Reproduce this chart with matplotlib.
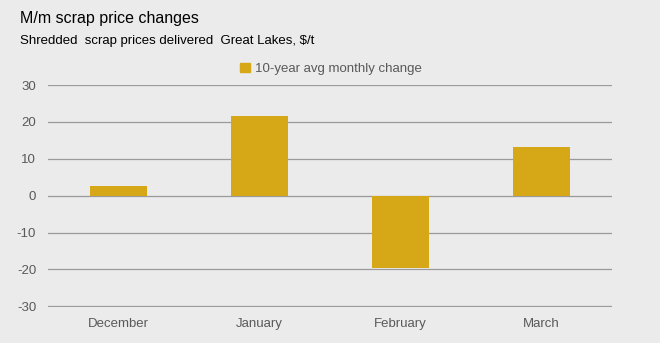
import matplotlib
matplotlib.use("Agg")
import matplotlib.pyplot as plt
from matplotlib.patches import Patch

# ---------------- data ----------------
months = ["December", "January", "February", "March"]
avg_change = [2.5, 21.7, -19.7, 13.1]
series_name = "10-year avg monthly change"

BG = "#EBEBEB"
GOLD = "#D6A817"
TXT = "#595959"

plt.rcParams["font.family"] = ["Liberation Sans", "DejaVu Sans"]
plt.rcParams["axes.unicode_minus"] = False

fig = plt.figure(figsize=(6.6, 3.43), dpi=100, facecolor=BG)
ax = fig.add_axes([48 / 660, 1 - 307 / 343, 564 / 660, 222 / 343])
ax.set_facecolor(BG)

x = range(len(months))
ax.bar(x, avg_change, width=0.40, color=GOLD, zorder=3)

ax.set_xlim(-0.5, len(months) - 0.5)
ax.set_ylim(-30.2, 30)
ax.set_yticks(range(-30, 31, 10))
ax.set_xticks(list(x))
ax.set_xticklabels(months)
ax.yaxis.grid(True, color="#9A9A9A", linewidth=0.9, zorder=0)
ax.tick_params(length=0, colors=TXT, labelsize=9.5)
ax.tick_params(axis="y", pad=8.5)
ax.tick_params(axis="x", pad=8)
for s in ax.spines.values():
    s.set_visible(False)

fig.text(20 / 660, 1 - 18 / 343, "M/m scrap price changes", fontsize=11.5,
         color="#000000", va="center", ha="left")
fig.text(20 / 660, 1 - 41 / 343, "Shredded  scrap prices delivered  Great Lakes, $/t",
         fontsize=9.5, color="#000000", va="center", ha="left")

leg = fig.legend(handles=[Patch(color=GOLD, label=series_name)],
                 loc="center", bbox_to_anchor=(331 / 660, 1 - 69 / 343),
                 frameon=False, fontsize=9.5, handlelength=0.7, handleheight=0.7,
                 handletextpad=0.4)
for t in leg.get_texts():
    t.set_color(TXT)

fig.savefig("out.png", dpi=100, facecolor=BG)
